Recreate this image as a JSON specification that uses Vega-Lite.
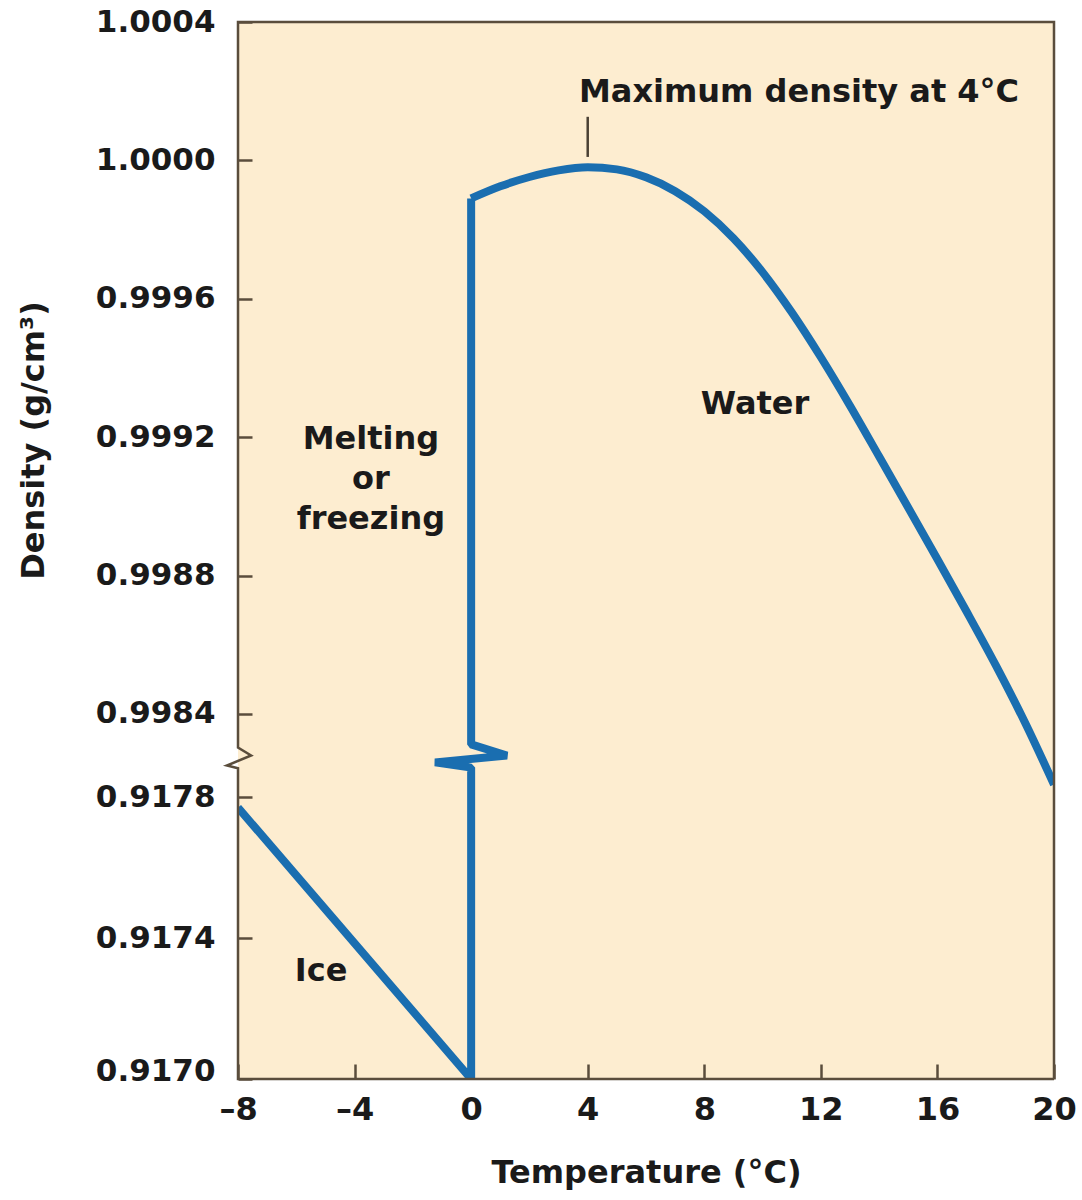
{
  "$schema": "https://vega.github.io/schema/vega-lite/v6.json",
  "width": 816,
  "height": 1057,
  "autosize": {"type": "none"},
  "padding": {"left": 238, "top": 22, "right": 28, "bottom": 121},
  "background": "white",
  "config": {
    "view": {"fill": "#fdedd0", "stroke": null},
    "font": "DejaVu Sans"
  },
  "datasets": {
    "water": [
      {"t": 0, "d": 0.99989}, {"t": 1, "d": 0.999925}, {"t": 2, "d": 0.999952},
      {"t": 3, "d": 0.999971}, {"t": 4, "d": 0.99998}, {"t": 5, "d": 0.999974},
      {"t": 6, "d": 0.999951}, {"t": 7, "d": 0.999911}, {"t": 8, "d": 0.999853},
      {"t": 9, "d": 0.999775}, {"t": 10, "d": 0.999677}, {"t": 11, "d": 0.999561},
      {"t": 12, "d": 0.999431}, {"t": 13, "d": 0.999291}, {"t": 14, "d": 0.999144},
      {"t": 15, "d": 0.998996}, {"t": 16, "d": 0.998847}, {"t": 17, "d": 0.998696},
      {"t": 18, "d": 0.998541}, {"t": 19, "d": 0.998376}, {"t": 20, "d": 0.998196}
    ],
    "icepath": [
      {"t": -8, "d": 0.91777, "o": 1},
      {"t": 0, "d": 0.9170, "o": 2},
      {"t": 0, "d": 0.998245, "o": 3},
      {"t": -1.24, "d": 0.998260, "o": 4},
      {"t": 1.23, "d": 0.998280, "o": 5},
      {"t": 0, "d": 0.998312, "o": 6},
      {"t": 0, "d": 0.99989, "o": 7}
    ],
    "frame": [
      {"t": 20, "d": 0.9170, "o": 1},
      {"t": -8, "d": 0.9170, "o": 2},
      {"t": -8, "d": 0.998243, "o": 3},
      {"t": -8.38, "d": 0.998251, "o": 4},
      {"t": -7.55, "d": 0.998280, "o": 5},
      {"t": -8, "d": 0.998303, "o": 6},
      {"t": -8, "d": 1.0004, "o": 7},
      {"t": 20, "d": 1.0004, "o": 8},
      {"t": 20, "d": 0.9170, "o": 9}
    ],
    "notes": [
      {"t": 11.25, "d": 1.000198, "label": "Maximum density at 4°C"},
      {"t": 9.74, "d": 0.999297, "label": "Water"},
      {"t": -3.44, "d": 0.999195, "label": "Melting"},
      {"t": -3.44, "d": 0.999080, "label": "or"},
      {"t": -3.44, "d": 0.998964, "label": "freezing"},
      {"t": -5.15, "d": 0.917305, "label": "Ice"}
    ],
    "pointer": [{"t": 4, "d": 1.00001, "d2": 1.000126}]
  },
  "encoding": {
    "x": {
      "field": "t",
      "type": "quantitative",
      "scale": {"domain": [-8, 20], "nice": false, "zero": false},
      "axis": {
        "values": [-8, -4, 0, 4, 8, 12, 16, 20],
        "labelExpr": "datum.value < 0 ? '–' + abs(datum.value) : datum.label",
        "labelFlush": false,
        "labelFont": "DejaVu Sans",
        "labelFontSize": 32,
        "labelFontWeight": "bold",
        "labelColor": "#1a1a1a",
        "labelPadding": 30,
        "tickSize": -15,
        "tickWidth": 2.5,
        "tickColor": "#5a4d3c",
        "domain": false,
        "grid": false,
        "title": "Temperature (°C)",
        "titleFont": "DejaVu Sans",
        "titleFontSize": 32,
        "titleFontWeight": "bold",
        "titleColor": "#1a1a1a",
        "titleY": 93,
        "titleBaseline": "middle"
      }
    },
    "y": {
      "field": "d",
      "type": "quantitative",
      "scale": {
        "domain": [0.9170, 0.9178, 0.99816, 1.0004],
        "range": [1057, 775, 775, 0],
        "nice": false,
        "zero": false
      },
      "axis": {
        "values": [0.917, 0.9174, 0.9178, 0.9984, 0.9988, 0.9992, 0.9996, 1.0, 1.0004],
        "format": ".4f",
        "labelFlush": false,
        "labelFont": "DejaVu Sans",
        "labelFontSize": 31,
        "labelFontWeight": "bold",
        "labelColor": "#1a1a1a",
        "labelPadding": 37,
        "labelOffset": {"condition": {"test": "datum.value < 0.9171", "value": -8}, "value": 0},
        "tickSize": -14,
        "tickWidth": 2.5,
        "tickColor": "#5a4d3c",
        "domain": false,
        "grid": false,
        "title": "Density (g/cm³)",
        "titleFont": "DejaVu Sans",
        "titleFontSize": 32,
        "titleFontWeight": "bold",
        "titleColor": "#1a1a1a",
        "titleX": -205,
        "titleY": 418,
        "titleAngle": -90,
        "titleAlign": "center",
        "titleBaseline": "middle"
      }
    }
  },
  "layer": [
    {
      "data": {"name": "icepath"},
      "mark": {"type": "line", "color": "#1a6eb0", "strokeWidth": 8, "strokeJoin": "bevel", "clip": true},
      "encoding": {"order": {"field": "o", "type": "quantitative"}}
    },
    {
      "data": {"name": "water"},
      "mark": {"type": "line", "color": "#1a6eb0", "strokeWidth": 8, "interpolate": "monotone", "clip": true},
      "encoding": {}
    },
    {
      "data": {"name": "pointer"},
      "mark": {"type": "rule", "color": "#4a4034", "strokeWidth": 2.5},
      "encoding": {"y2": {"field": "d2"}}
    },
    {
      "data": {"name": "notes"},
      "mark": {"type": "text", "font": "DejaVu Sans", "fontSize": 32, "fontWeight": "bold", "color": "#1a1a1a", "align": "center", "baseline": "middle"},
      "encoding": {"text": {"field": "label", "type": "nominal"}}
    },
    {
      "data": {"name": "frame"},
      "mark": {"type": "line", "color": "#5a4d3c", "strokeWidth": 2.5, "strokeJoin": "miter"},
      "encoding": {"order": {"field": "o", "type": "quantitative"}}
    }
  ]
}
